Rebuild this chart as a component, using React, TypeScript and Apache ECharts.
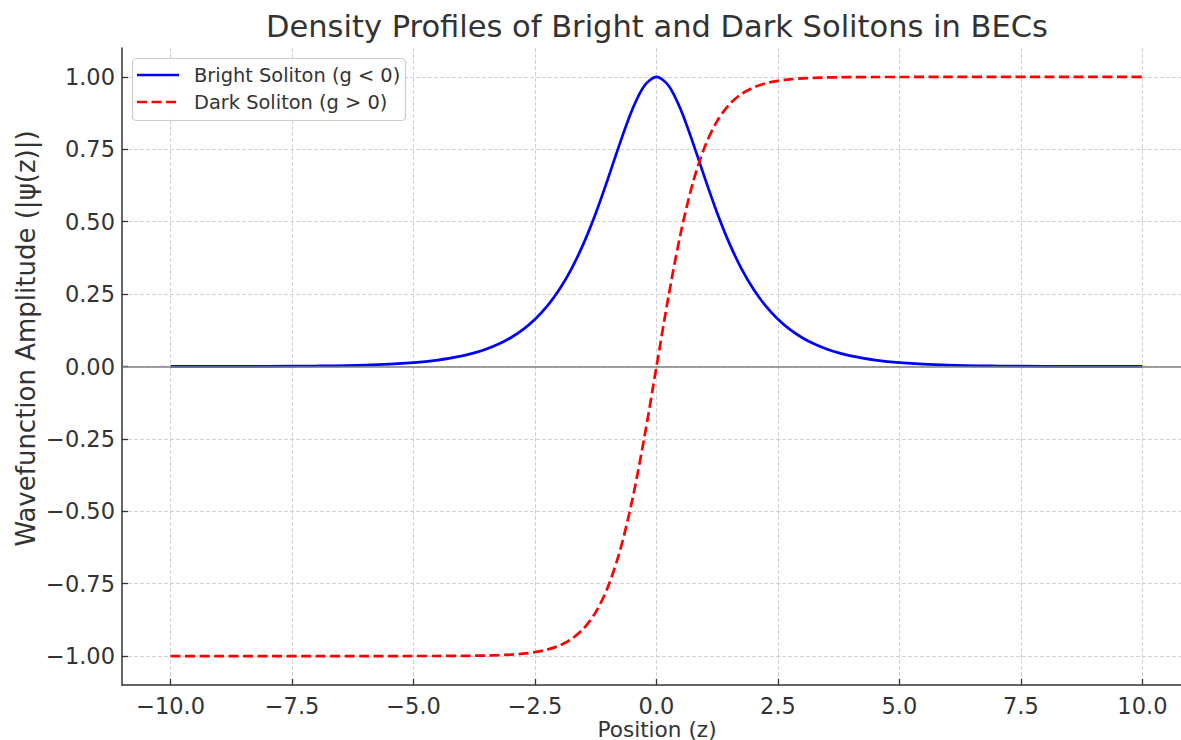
import React, { useEffect, useRef } from "react";
import * as echarts from "echarts";

// Position (z) samples
const positions = [
  -10, -9, -8, -7, -6, -5, -4.5,
  -4, -3.75, -3.5, -3.25, -3, -2.75, -2.5, -2.25, -2, -1.75, -1.5, -1.25, -1, -0.75, -0.5, -0.25,
  0,
  0.25, 0.5, 0.75, 1, 1.25, 1.5, 1.75, 2, 2.25, 2.5, 2.75, 3, 3.25, 3.5, 3.75, 4,
  4.5, 5, 6, 7, 8, 9, 10,
];

// Bright soliton (g < 0) amplitude
const brightSoliton = [
  0.0001, 0.0002, 0.0007, 0.0018, 0.005, 0.0135, 0.0222,
  0.0366, 0.047, 0.0603, 0.0774, 0.0993, 0.1272, 0.1631, 0.2083, 0.2658, 0.3373, 0.4251, 0.5295, 0.6481, 0.7724, 0.8868, 0.9695,
  1.0,
  0.9695, 0.8868, 0.7724, 0.6481, 0.5295, 0.4251, 0.3373, 0.2658, 0.2083, 0.1631, 0.1272, 0.0993, 0.0774, 0.0603, 0.047, 0.0366,
  0.0222, 0.0135, 0.005, 0.0018, 0.0007, 0.0002, 0.0001,
];

// Dark soliton (g > 0) amplitude
const darkSoliton = [
  -1.0, -1.0, -1.0, -1.0, -1.0, -0.9999, -0.9998,
  -0.9993, -0.9989, -0.9982, -0.997, -0.995, -0.9919, -0.9866, -0.978, -0.964, -0.9414, -0.9051, -0.8483, -0.7616, -0.6351, -0.4621, -0.2449,
  0.0,
  0.2449, 0.4621, 0.6351, 0.7616, 0.8483, 0.9051, 0.9414, 0.964, 0.978, 0.9866, 0.9919, 0.995, 0.997, 0.9982, 0.9989, 0.9993,
  0.9998, 0.9999, 1.0, 1.0, 1.0, 1.0, 1.0,
];

const seriesNames = ["Bright Soliton (g < 0)", "Dark Soliton (g > 0)"];
const titleText = "Density Profiles of Bright and Dark Solitons in BECs";
const xLabel = "Position (z)";
const yLabel = "Wavefunction Amplitude (|\u03c8(z)|)";

const FONT = "DejaVu Sans";
const TEXT = "#333333";
const minusFmt = (d: number) => (v: number) =>
  (v < -1e-9 ? "\u2212" : "") + Math.abs(v).toFixed(d);

export default function App() {
  const ref = useRef<HTMLDivElement>(null);

  useEffect(() => {
    if (!ref.current) return;
    const chart = echarts.init(ref.current, undefined, { renderer: "svg" });

    const gridDash = { color: "#d3d3d3", width: 1, type: [4, 2] as any };

    const option: any = {
      animation: false,
      backgroundColor: "#ffffff",
      grid: [
        { left: 122, top: 48, width: 1069, height: 637, containLabel: false },
        { left: 122, top: 76.95, width: 1069, height: 579.1, containLabel: false },
        { left: 170.6, top: 48, width: 971.8, height: 637, containLabel: false },
      ],
      xAxis: [
        {
          gridIndex: 0, type: "value", min: -11, max: 11,
          axisLine: { show: true, onZero: false, lineStyle: { color: TEXT, width: 1.5 } },
          axisTick: { show: false }, axisLabel: { show: false }, splitLine: { show: false },
        },
        {
          gridIndex: 1, type: "value", min: 0, max: 1, show: false,
        },
        {
          gridIndex: 2, type: "value", min: -10, max: 10, interval: 2.5,
          axisLine: { show: false, onZero: false },
          axisTick: { show: true, inside: true, length: 6, lineStyle: { color: TEXT, width: 1.3 } },
          axisLabel: {
            show: true, margin: 9, color: TEXT, fontFamily: FONT, fontSize: 22.5,
            formatter: minusFmt(1),
          },
          splitLine: { show: true, lineStyle: gridDash },
        },
      ],
      yAxis: [
        {
          gridIndex: 0, type: "value", min: -1.1, max: 1.1,
          axisLine: { show: true, onZero: false, lineStyle: { color: TEXT, width: 1.5 } },
          axisTick: { show: false }, axisLabel: { show: false }, splitLine: { show: false },
        },
        {
          gridIndex: 1, type: "value", min: -1, max: 1, interval: 0.25,
          axisLine: { show: false, onZero: false },
          axisTick: { show: true, inside: true, length: 6, lineStyle: { color: TEXT, width: 1.3 } },
          axisLabel: {
            show: true, margin: 7, color: TEXT, fontFamily: FONT, fontSize: 22.5,
            formatter: minusFmt(2),
          },
          splitLine: { show: true, lineStyle: gridDash },
        },
        {
          gridIndex: 2, type: "value", min: 0, max: 1, show: false,
        },
      ],
      series: [
        {
          type: "line", name: "zero", xAxisIndex: 0, yAxisIndex: 0, z: 1,
          data: [], symbol: "none", silent: true,
          markLine: {
            silent: true, symbol: "none", label: { show: false },
            lineStyle: { color: "#808080", width: 1.6, type: "solid" },
            data: [{ yAxis: 0 }],
          },
        },
        {
          type: "line", name: seriesNames[0], xAxisIndex: 0, yAxisIndex: 0, z: 3,
          data: positions.map((x, i) => [x, brightSoliton[i]]),
          symbol: "none", smooth: 0.3,
          lineStyle: { color: "#0000ff", width: 2.7 },
        },
        {
          type: "line", name: seriesNames[1], xAxisIndex: 0, yAxisIndex: 0, z: 3,
          data: positions.map((x, i) => [x, darkSoliton[i]]),
          symbol: "none", smooth: 0.3,
          lineStyle: { color: "#ff0000", width: 2.7, type: [10, 4.5] },
        },
      ],
      graphic: [
        {
          type: "text", x: 657, y: 26, z: 10,
          style: { text: titleText, fontFamily: FONT, fontSize: 30.5, fill: TEXT, align: "center", verticalAlign: "middle" },
        },
        {
          type: "text", x: 657, y: 729, z: 10,
          style: { text: xLabel, fontFamily: FONT, fontSize: 21.6, fill: TEXT, align: "center", verticalAlign: "middle" },
        },
        {
          type: "text", x: 25.5, y: 338.5, rotation: Math.PI / 2, z: 10,
          style: { text: yLabel, fontFamily: FONT, fontSize: 26, fill: TEXT, align: "center", verticalAlign: "middle" },
        },
        {
          type: "rect", z: 20, shape: { x: 132.5, y: 58.5, width: 273, height: 62, r: 4 },
          style: { fill: "rgba(255,255,255,0.85)", stroke: "#cccccc", lineWidth: 1.2 },
        },
        {
          type: "line", z: 21, shape: { x1: 137, y1: 75, x2: 179, y2: 75 },
          style: { stroke: "#0000ff", lineWidth: 2.7 },
        },
        {
          type: "line", z: 21, shape: { x1: 137, y1: 102, x2: 179, y2: 102 },
          style: { stroke: "#ff0000", lineWidth: 2.7, lineDash: [10, 4.5] },
        },
        {
          type: "text", z: 21, x: 194, y: 75,
          style: { text: seriesNames[0], fontFamily: FONT, fontSize: 19.4, fill: TEXT, align: "left", verticalAlign: "middle" },
        },
        {
          type: "text", z: 21, x: 194, y: 102,
          style: { text: seriesNames[1], fontFamily: FONT, fontSize: 19.4, fill: TEXT, align: "left", verticalAlign: "middle" },
        },
      ],
    };

    chart.setOption(option);
    return () => chart.dispose();
  }, []);

  return (
    <div style={{ position: "fixed", left: 0, top: 0, width: 1181, height: 740, overflow: "hidden", background: "#fff" }}>
      <div ref={ref} style={{ width: 1200, height: 740 }} />
    </div>
  );
}
